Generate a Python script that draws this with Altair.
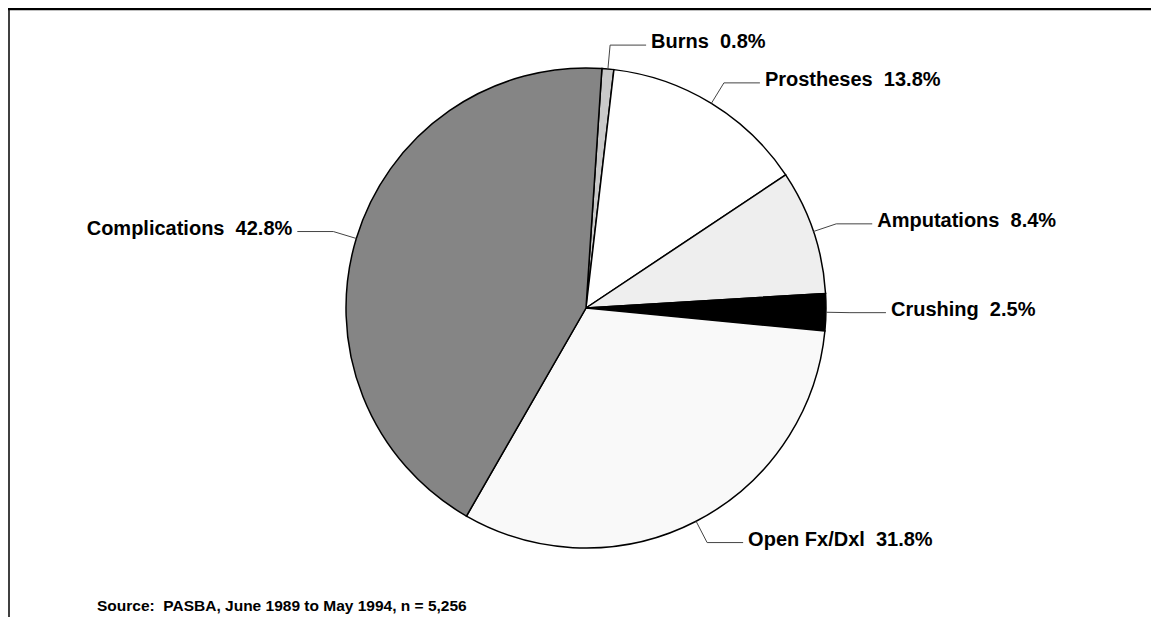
import math
import altair as alt
import pandas as pd

# ---- data ----
categories = ["Burns", "Prostheses", "Amputations", "Crushing", "Open Fx/Dxl", "Complications"]
percents = [0.8, 13.8, 8.4, 2.5, 31.8, 42.8]
fills = ["#c9c9c9", "#ffffff", "#eeeeee", "#000000", "#f9f9f9", "#858585"]
source_note = "Source:\u00a0 PASBA, June 1989 to May 1994, n = 5,256"

# ---- layout (styles, not data) ----
W, H = 1143, 609
CX, CY = 578, 300
R = 240
R_ELBOW = 264
ARM = 36
GAP = 5
START = math.radians(3.8)

total = sum(percents)
line_rows, label_rows = [], []
cum = 0.0
for i, (c, p) in enumerate(zip(categories, percents)):
    mid = START + 2 * math.pi * (cum + p / 2) / total
    cum += p
    ex, ey = CX + R * math.sin(mid), CY - R * math.cos(mid)
    bx, by = CX + R_ELBOW * math.sin(mid), CY - R_ELBOW * math.cos(mid)
    side = 1 if math.sin(mid) >= 0 else -1
    hx = bx + side * ARM
    line_rows += [
        dict(cat=c, k=0, x=ex, y=ey),
        dict(cat=c, k=1, x=bx, y=by),
        dict(cat=c, k=2, x=hx, y=by),
    ]
    label_rows.append(dict(cat=c, x=hx + side * GAP, y=by,
                           text=f"{c}\u00a0 {p}%", side="right" if side > 0 else "left"))

pie_df = pd.DataFrame({"cat": categories, "pct": percents, "ord": list(range(len(categories)))})
lines_df = pd.DataFrame(line_rows)
labels_df = pd.DataFrame(label_rows)
dummy = pd.DataFrame({"a": [0]})

xs = alt.Scale(domain=[0, W], range=[0, W])
ys = alt.Scale(domain=[0, H], range=[0, H])

pie = alt.Chart(pie_df).mark_arc(radius=R, stroke="black", strokeWidth=1.5).encode(
    theta=alt.Theta("pct:Q", stack=True, scale=alt.Scale(range=[START, START + 2 * math.pi])),
    order=alt.Order("ord:Q"),
    color=alt.Color("cat:N", scale=alt.Scale(domain=categories, range=fills), legend=None),
    x=alt.value(CX),
    y=alt.value(CY),
)

leaders = alt.Chart(lines_df).mark_line(color="#444444", strokeWidth=1).encode(
    x=alt.X("x:Q", scale=xs, axis=None),
    y=alt.Y("y:Q", scale=ys, axis=None),
    detail="cat:N",
    order="k:Q",
)

label_font = dict(font="Liberation Sans, Arial, sans-serif", fontSize=20, fontWeight="bold",
                  color="black", baseline="middle", dy=-3)

labels_r = alt.Chart(labels_df).transform_filter(alt.datum.side == "right").mark_text(
    align="left", **label_font).encode(
    x=alt.X("x:Q", scale=xs, axis=None),
    y=alt.Y("y:Q", scale=ys, axis=None),
    text="text:N",
)
labels_l = alt.Chart(labels_df).transform_filter(alt.datum.side == "left").mark_text(
    align="right", **label_font).encode(
    x=alt.X("x:Q", scale=xs, axis=None),
    y=alt.Y("y:Q", scale=ys, axis=None),
    text="text:N",
)

source = alt.Chart(dummy).mark_text(
    align="left", baseline="alphabetic",
    font="Liberation Sans, Arial, sans-serif",
    fontSize=15.5, fontWeight="bold", color="black",
).encode(x=alt.value(89), y=alt.value(603), text=alt.value(source_note))

frame_top = alt.Chart(dummy).mark_rule(color="black", strokeWidth=2.5).encode(
    x=alt.value(0), x2=alt.value(W), y=alt.value(1))
frame_left = alt.Chart(dummy).mark_rule(color="black", strokeWidth=1.5).encode(
    x=alt.value(1), y=alt.value(0), y2=alt.value(H))

chart = alt.layer(frame_top, frame_left, pie, leaders, labels_r, labels_l, source).properties(
    width=W, height=H, padding=0,
    autosize=alt.AutoSizeParams(type="none"),
).configure_view(stroke=None)

chart.save("out.html", embed_options={"renderer": "svg", "actions": False})
